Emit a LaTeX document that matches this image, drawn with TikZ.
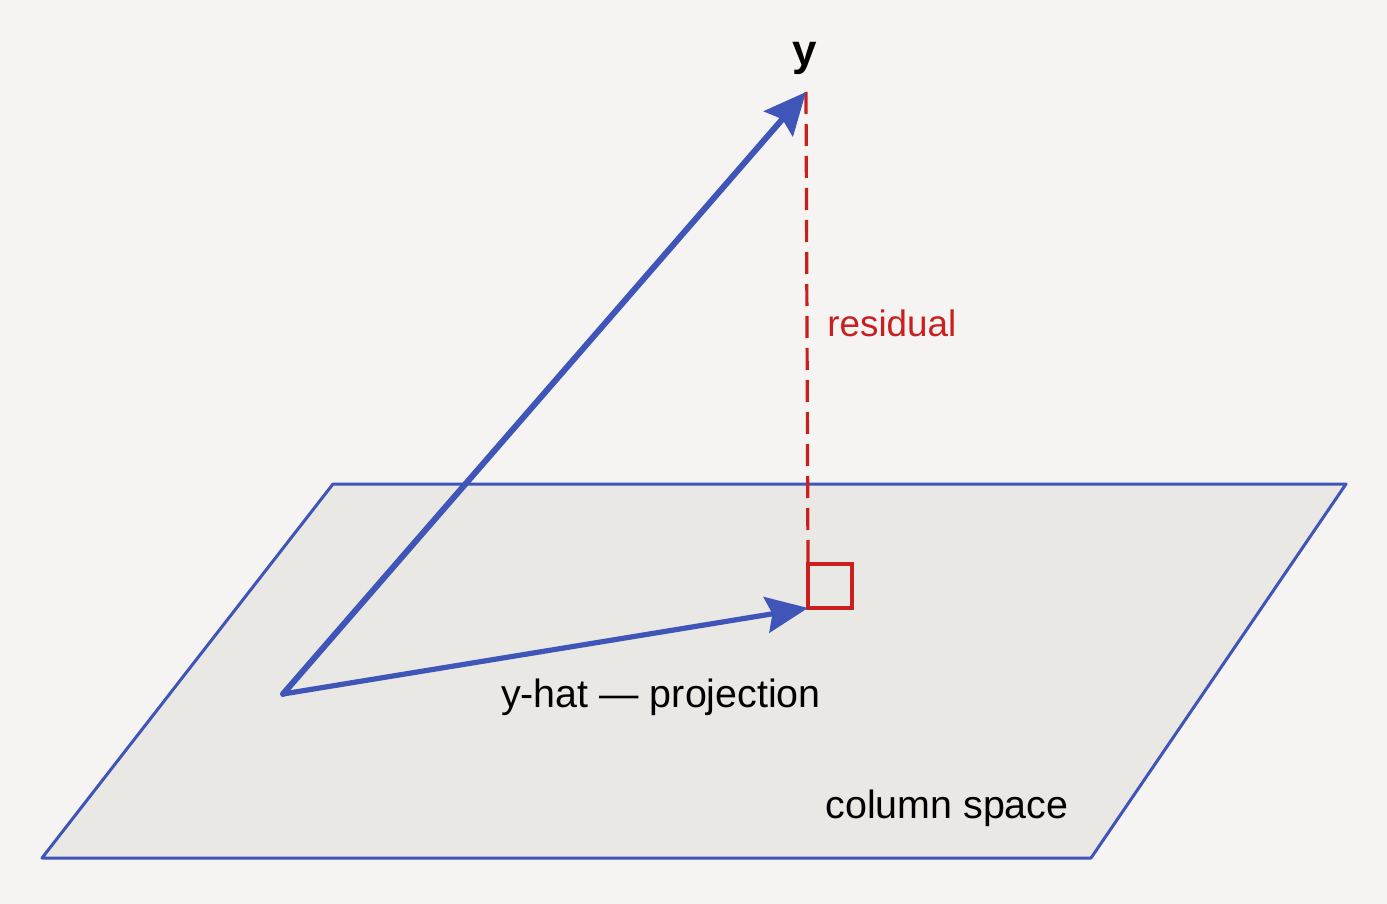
\documentclass[tikz,border=0pt]{standalone}
\usepackage{fontspec}
\setmainfont{Liberation Sans}
\usetikzlibrary{arrows.meta}
\definecolor{bgc}{HTML}{F5F4F2}
\definecolor{planefill}{HTML}{E9E8E5}
\definecolor{vblue}{HTML}{3F55B8}
\definecolor{rred}{HTML}{C9201F}
\tikzset{
  plane/.style={draw=vblue, fill=planefill, line width=1.5pt, line join=round},
  vec/.style={draw=vblue, line width=3pt, line cap=round, -{Stealth[length=21pt,width=19pt,inset=3pt]}},
  vecb/.style={draw=vblue, line width=2.6pt, line cap=round, -{Stealth[length=21pt,width=18pt,inset=3pt]}},
  resid/.style={draw=rred, line width=1.6pt, dash pattern=on 11pt off 5pt},
  rbox/.style={draw=rred, line width=1.8pt},
  lbl/.style={inner sep=0pt, font=\fontsize{19.7}{23}\selectfont},
}
\begin{document}
\begin{tikzpicture}[x=0.5pt, y=-0.5pt]
\useasboundingbox[fill=bgc] (0,0) rectangle (1387,904);
\coordinate (P1) at (333,484);
\coordinate (P2) at (1346,484);
\coordinate (P3) at (1091,858);
\coordinate (P4) at (42,858);
\coordinate (O) at (283,694);
\coordinate (Y) at (806,92);
\coordinate (Yh) at (808,608);
\coordinate (B1) at (808,564);
\coordinate (B2) at (852,564);
\coordinate (B3) at (852,608);
\path[plane] (P1) -- (P2) -- (P3) -- (P4) -- cycle;
\draw[resid] (Y) -- (B1);
\draw[rbox] (B1) -- (B2) -- (B3) -- (Yh) -- cycle;
\draw[vec] (O) -- (Y);
\draw[vecb] (O) -- (Yh);
\node[lbl, font=\fontsize{22}{25}\bfseries] (ylab) at (805,58) {y};
\node[lbl, text=rred, anchor=west, font=\fontsize{18.4}{22}\selectfont] (res) at (827,323) {residual};
\node[lbl] (proj) at (661,697) {y-hat — projection};
\node[lbl] (cs) at (947,808) {column space};
\end{tikzpicture}
\end{document}
